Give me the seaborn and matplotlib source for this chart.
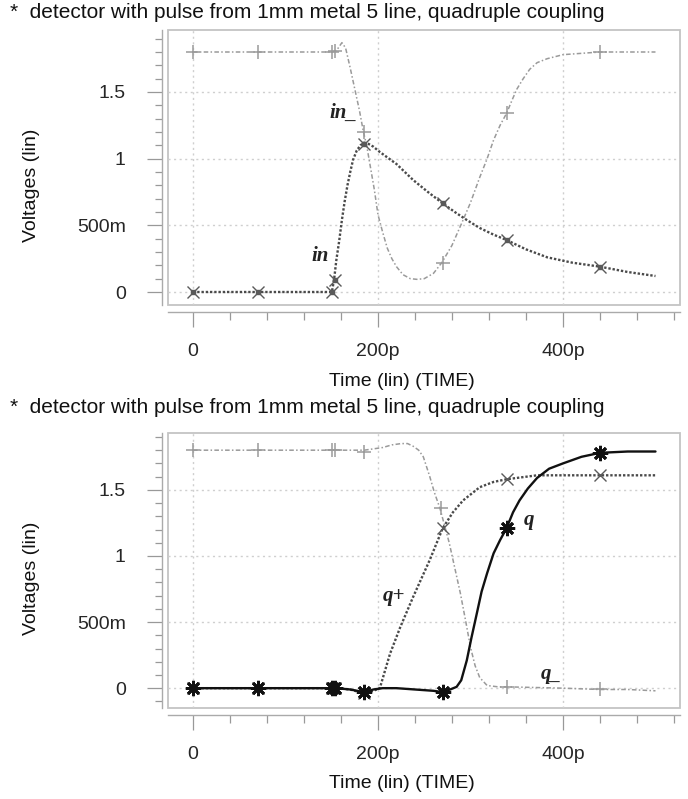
import numpy as np
import pandas as pd
import matplotlib
matplotlib.use("Agg")
import matplotlib.pyplot as plt
from matplotlib.patches import Rectangle
from matplotlib.ticker import MultipleLocator
import seaborn as sns

# ---------------- data (time in ps, voltage in V) ----------------
title_text = "*  detector with pulse from 1mm metal 5 line, quadruple coupling"
x_ticks = [0, 200, 400]
x_tick_labels = ["0", "200p", "400p"]
y_ticks = [0, 0.5, 1, 1.5]
y_tick_labels = ["0", "500m", "1", "1.5"]

# top panel: in_ (grey dash-dot) and in (dotted)
t_in_bar = [0, 70, 150, 155, 158, 161, 165, 170, 175, 180, 184, 188, 192, 196, 200, 205,
            210, 215, 220, 227, 235, 242, 250, 260, 269, 280, 292, 300, 310, 318, 325,
            332, 339, 345, 350, 357, 364, 372, 383, 400, 420, 440, 470, 500]
v_in_bar = [1.80, 1.80, 1.80, 1.81, 1.84, 1.87, 1.83, 1.68, 1.52, 1.36, 1.21, 1.09, 0.93,
            0.77, 0.58, 0.45, 0.33, 0.25, 0.19, 0.13, 0.10, 0.095, 0.10, 0.14, 0.22, 0.35,
            0.54, 0.67, 0.86, 1.00, 1.14, 1.25, 1.34, 1.44, 1.52, 1.60, 1.67, 1.72, 1.75,
            1.78, 1.79, 1.80, 1.80, 1.80]
t_in = [0, 70, 150, 151, 153, 155, 158, 161, 164, 167, 170, 173, 177, 181, 185, 190, 195,
        202, 210, 220, 238, 254, 269, 283, 296, 310, 325, 339, 360, 383, 410, 440, 470, 500]
v_in = [0, 0, 0, 0.03, 0.12, 0.24, 0.38, 0.54, 0.68, 0.80, 0.90, 0.99, 1.06, 1.10, 1.12,
        1.11, 1.09, 1.05, 1.01, 0.96, 0.84, 0.75, 0.67, 0.60, 0.54, 0.48, 0.43, 0.39, 0.32,
        0.26, 0.22, 0.19, 0.15, 0.12]
mk_t = [0, 70, 150, 154, 185, 270, 340, 440]
mk_in_bar = [1.80, 1.80, 1.80, 1.81, 1.20, 0.22, 1.34, 1.80]
mk_in = [0, 0, 0, 0.09, 1.11, 0.67, 0.39, 0.19]

# bottom panel: q_ (grey dash-dot), q+ (dotted), q (solid)
t_q_bar = [0, 70, 150, 185, 195, 205, 215, 225, 232, 238, 244, 249, 256, 261, 267, 272,
           277, 283, 289, 295, 300, 305, 310, 318, 330, 340, 400, 440, 470, 500]
v_q_bar = [1.80, 1.80, 1.80, 1.80, 1.81, 1.82, 1.84, 1.85, 1.85, 1.83, 1.80, 1.75, 1.60,
           1.48, 1.36, 1.23, 1.10, 0.91, 0.72, 0.50, 0.31, 0.17, 0.08, 0.02, 0.01, 0.01,
           0.00, -0.01, -0.01, -0.02]
t_q_plus = [0, 70, 150, 155, 170, 185, 195, 202, 213, 224, 238, 256, 270, 281, 292, 310,
            325, 339, 372, 400, 440, 470, 500]
v_q_plus = [0, 0, 0, 0, -0.01, -0.04, -0.02, 0.0, 0.26, 0.46, 0.69, 0.97, 1.21, 1.33, 1.42,
            1.52, 1.56, 1.58, 1.61, 1.61, 1.61, 1.61, 1.61]
t_q = [0, 70, 150, 155, 170, 185, 195, 205, 220, 240, 260, 270, 278, 285, 290, 296, 301,
       307, 312, 318, 325, 332, 339, 346, 353, 362, 372, 385, 400, 420, 440, 470, 500]
v_q = [0, 0, 0, 0, -0.01, -0.03, -0.01, 0.0, 0.0, -0.01, -0.02, -0.03, -0.01, 0.01, 0.06,
       0.21, 0.38, 0.57, 0.73, 0.87, 1.02, 1.12, 1.21, 1.33, 1.42, 1.51, 1.59, 1.66, 1.70,
       1.75, 1.78, 1.79, 1.79]
mk_q_bar_t = [0, 70, 150, 154, 185, 268, 340, 440]
mk_q_bar = [1.80, 1.80, 1.80, 1.80, 1.79, 1.36, 0.01, -0.01]
mk_q_plus = [0, 0, 0, 0, -0.04, 1.21, 1.58, 1.61]
mk_q = [0, 0, 0, 0, -0.03, -0.03, 1.21, 1.78]

# ---------------- style ----------------
sns.set_theme(style="white")
plt.rcParams["font.family"] = ["Liberation Sans", "DejaVu Sans"]

W, H = 688, 799
fig = plt.figure(figsize=(W / 100, H / 100), dpi=100)


def fx(px):
    return px / W


def fy(py):
    return 1 - py / H


GREY = "#9a9a9a"
DARK = "#4a4a4a"
DASHDOT = (0, (3, 1.5, 1, 1.5))
DOTTED = (0, (1, 0.8))
FS = 14


def setup_axes(top_px, bottom_px, ylim):
    ax = fig.add_axes([fx(168), fy(bottom_px), fx(680) - fx(168), fy(top_px) - fy(bottom_px)])
    ax.set_xlim(-27, 526.5)
    ax.set_ylim(*ylim)
    for s in ["top", "right"]:
        ax.spines[s].set_visible(False)
    ax.spines["left"].set_position(("outward", 4))
    ax.spines["bottom"].set_position(("outward", 5))
    for s in ["left", "bottom"]:
        ax.spines[s].set_color("#aaaaaa")
        ax.spines[s].set_linewidth(1.0)
    ax.add_patch(Rectangle((0, 0), 1, 1, transform=ax.transAxes, fill=False,
                           ec="#c4c4c4", lw=1.3, clip_on=False, zorder=0.5))
    ax.set_xticks(x_ticks)
    ax.set_xticklabels(x_tick_labels)
    ax.set_yticks(y_ticks)
    ax.set_yticklabels(y_tick_labels)
    ax.xaxis.set_minor_locator(MultipleLocator(40))
    ax.yaxis.set_minor_locator(MultipleLocator(0.1))
    ax.tick_params(axis="x", which="major", direction="out", length=10.5, width=0.9,
                   color="#999999", labelsize=FS, pad=12, bottom=True)
    ax.tick_params(axis="x", which="minor", direction="out", length=5.5, width=0.9,
                   color="#999999", bottom=True)
    ax.tick_params(axis="y", which="major", direction="out", length=10.5, width=0.9,
                   color="#999999", labelsize=FS, pad=16, left=True)
    ax.tick_params(axis="y", which="minor", direction="out", length=5, width=0.9,
                   color="#999999", left=True)
    for v in y_ticks:
        ax.axhline(v, color="#cfcfcf", lw=1.0, ls=(0, (1.5, 2.5)), zorder=0.6)
    for v in x_ticks:
        ax.axvline(v, color="#cfcfcf", lw=1.0, ls=(0, (1.5, 2.5)), zorder=0.6)
    ax.set_xlabel("")
    ax.set_ylabel("")
    return ax


# ---------------- top panel ----------------
ax1 = setup_axes(30, 305, (-0.0975, 1.965))
sns.lineplot(x=t_in_bar, y=v_in_bar, ax=ax1, color=GREY, lw=1.1, linestyle=DASHDOT,
             sort=False, estimator=None)
sns.lineplot(x=t_in, y=v_in, ax=ax1, color=DARK, lw=1.7, linestyle=DOTTED,
             sort=False, estimator=None)
ax1.plot(mk_t, mk_in_bar, ls="none", marker="+", ms=10, mew=1.1, color=GREY)
ax1.plot(mk_t, mk_in, ls="none", marker="x", ms=9, mew=1.0, color="#5a5a5a")
ax1.plot(mk_t, mk_in, ls="none", marker="s", ms=3.5, color="#5a5a5a")
ax1.text(163, 1.34, "in_", fontsize=15, style="italic", weight="bold",
         family=["Liberation Serif", "DejaVu Serif"], ha="center", va="center", color="#222222")
ax1.text(137, 0.27, "in", fontsize=15, style="italic", weight="bold",
         family=["Liberation Serif", "DejaVu Serif"], ha="center", va="center", color="#222222")

# ---------------- bottom panel ----------------
ax2 = setup_axes(433, 708, (-0.15, 1.93))
sns.lineplot(x=t_q_bar, y=v_q_bar, ax=ax2, color=GREY, lw=1.1, linestyle=DASHDOT,
             sort=False, estimator=None)
sns.lineplot(x=t_q_plus, y=v_q_plus, ax=ax2, color=DARK, lw=1.7, linestyle=DOTTED,
             sort=False, estimator=None)
sns.lineplot(x=t_q, y=v_q, ax=ax2, color="#111111", lw=1.7, linestyle="-",
             sort=False, estimator=None)
ax2.plot(mk_q_bar_t, mk_q_bar, ls="none", marker="+", ms=10, mew=1.1, color=GREY)
ax2.plot(mk_t, mk_q_plus, ls="none", marker="x", ms=9, mew=1.0, color="#5a5a5a")
ax2.plot(mk_t, mk_q, ls="none", marker=(8, 2, 0), ms=11, mew=2.0, color="#111111")
ax2.text(217, 0.70, "q+", fontsize=15, style="italic", weight="bold",
         family=["Liberation Serif", "DejaVu Serif"], ha="center", va="center", color="#222222")
ax2.text(363, 1.27, "q", fontsize=15, style="italic", weight="bold",
         family=["Liberation Serif", "DejaVu Serif"], ha="center", va="center", color="#222222")
ax2.text(387, 0.11, "q_", fontsize=15, style="italic", weight="bold",
         family=["Liberation Serif", "DejaVu Serif"], ha="center", va="center", color="#222222")

# ---------------- texts ----------------
for ty in (13, 408):
    fig.text(fx(10), fy(ty), title_text, fontsize=15, ha="left", va="center", color="#111111")
for ly in (382, 784):
    fig.text(fx(402), fy(ly), "Time (lin) (TIME)", fontsize=FS, ha="center", va="center",
             color="#111111")
for ly in (185, 578):
    fig.text(fx(32), fy(ly), "Voltages (lin)", fontsize=FS, ha="center", va="center",
             rotation=90, color="#111111")

fig.savefig("out.png", dpi=100)
